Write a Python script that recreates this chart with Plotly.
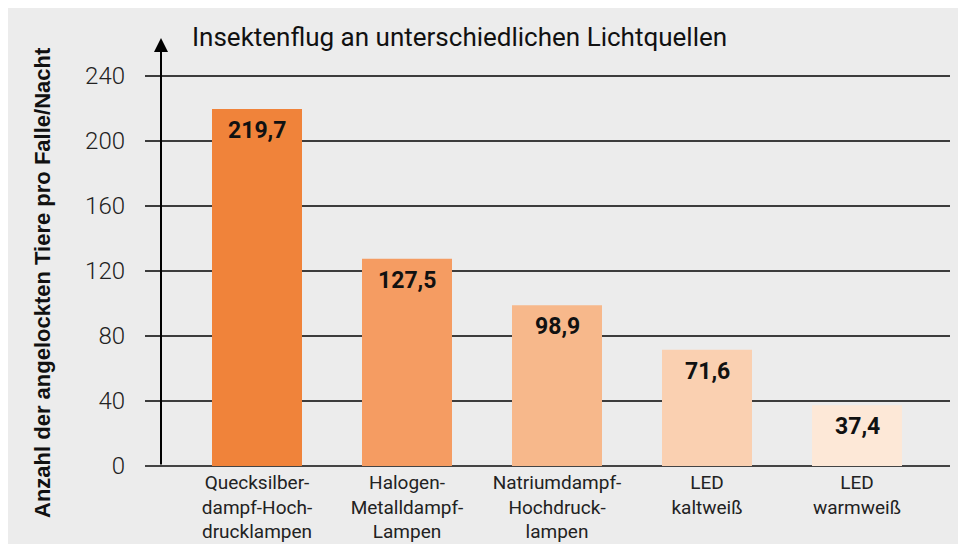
import plotly.graph_objects as go

categories = [
    "Quecksilber-<br>dampf-Hoch-<br>drucklampen",
    "Halogen-<br>Metalldampf-<br>Lampen",
    "Natriumdampf-<br>Hochdruck-<br>lampen",
    "LED<br>kaltweiß",
    "LED<br>warmweiß",
]
values = [219.7, 127.5, 98.9, 71.6, 37.4]
value_labels = ["219,7", "127,5", "98,9", "71,6", "37,4"]
bar_colors = ["#F0833A", "#F59C62", "#F7B88B", "#FAD0B1", "#FDE8D7"]
y_ticks = [0, 40, 80, 120, 160, 200, 240]

title_text = "Insektenflug an unterschiedlichen Lichtquellen"
y_title = "Anzahl der angelockten Tiere pro Falle/Nacht"

BG = "#ECECEC"
W, H = 966, 544
OFF = 8  # page body margin
L, R = 145 - OFF, W - (950 - OFF)
T, B = 38 - OFF, H - (466 - OFF)
PW, PH = W - L - R, H - T - B
PX_PER_UNIT = 1.625
Y_MAX = PH / PX_PER_UNIT
CAT_PX = 150
X0 = -(257 - 145) / CAT_PX
X1 = X0 + PW / CAT_PX

fig = go.Figure()
fig.add_trace(go.Bar(
    x=list(range(len(categories))),
    y=values,
    marker=dict(color=bar_colors, line=dict(width=0)),
    width=0.6,
    hoverinfo="skip",
))

for i, (v, lab) in enumerate(zip(values, value_labels)):
    fig.add_annotation(
        x=i, y=v, xref="x", yref="y", text=lab, showarrow=False,
        yanchor="top", yshift=-6,
        font=dict(family="Roboto", size=23, color="#111111", weight="bold"),
    )

# vertical axis with arrow
ax_x = (161 - 257) / CAT_PX
fig.add_annotation(
    x=ax_x, y=Y_MAX, xref="x", yref="y",
    ax=ax_x, ay=0, axref="x", ayref="y",
    text="", showarrow=True, arrowhead=2, arrowsize=1.4, arrowwidth=2,
    arrowcolor="#000000", standoff=0, startstandoff=0,
)

def px_x(xabs):
    return (xabs - OFF - L) / PW

def px_y(yabs):
    return (T + PH - (yabs - OFF)) / PH

fig.add_annotation(
    x=px_x(190), y=px_y(37), xref="paper", yref="paper",
    text=title_text, showarrow=False, xanchor="left", yanchor="middle",
    font=dict(family="Roboto", size=26, color="#111111", weight=400),
)
fig.add_annotation(
    x=px_x(42), y=px_y(283), xref="paper", yref="paper",
    text=y_title, showarrow=False, textangle=-90,
    xanchor="center", yanchor="middle",
    font=dict(family="Liberation Sans", size=22, color="#111111", weight="bold"),
)

fig.update_layout(
    width=W, height=H,
    margin=dict(l=L, r=R, t=T, b=B, autoexpand=False),
    paper_bgcolor=BG,
    plot_bgcolor=BG,
    showlegend=False,
    bargap=0.4,
)
fig.update_xaxes(
    range=[X0, X1],
    tickmode="array", tickvals=list(range(len(categories))), ticktext=categories,
    showgrid=False, zeroline=False, showline=False, ticks="",
    ticklabelstandoff=3,
    tickfont=dict(family="Roboto", size=19, color="#222222"),
    fixedrange=True,
)
fig.update_yaxes(
    range=[0, Y_MAX],
    tickmode="array", tickvals=y_ticks,
    showgrid=True, gridcolor="#3c3c3c", gridwidth=1.5,
    zeroline=True, zerolinecolor="#444444", zerolinewidth=2,
    showline=False, ticks="",
    ticklabelstandoff=19,
    tickfont=dict(family="Roboto", size=24, color="#222222", weight=300),
    fixedrange=True,
)

fig.write_html("out.html")
